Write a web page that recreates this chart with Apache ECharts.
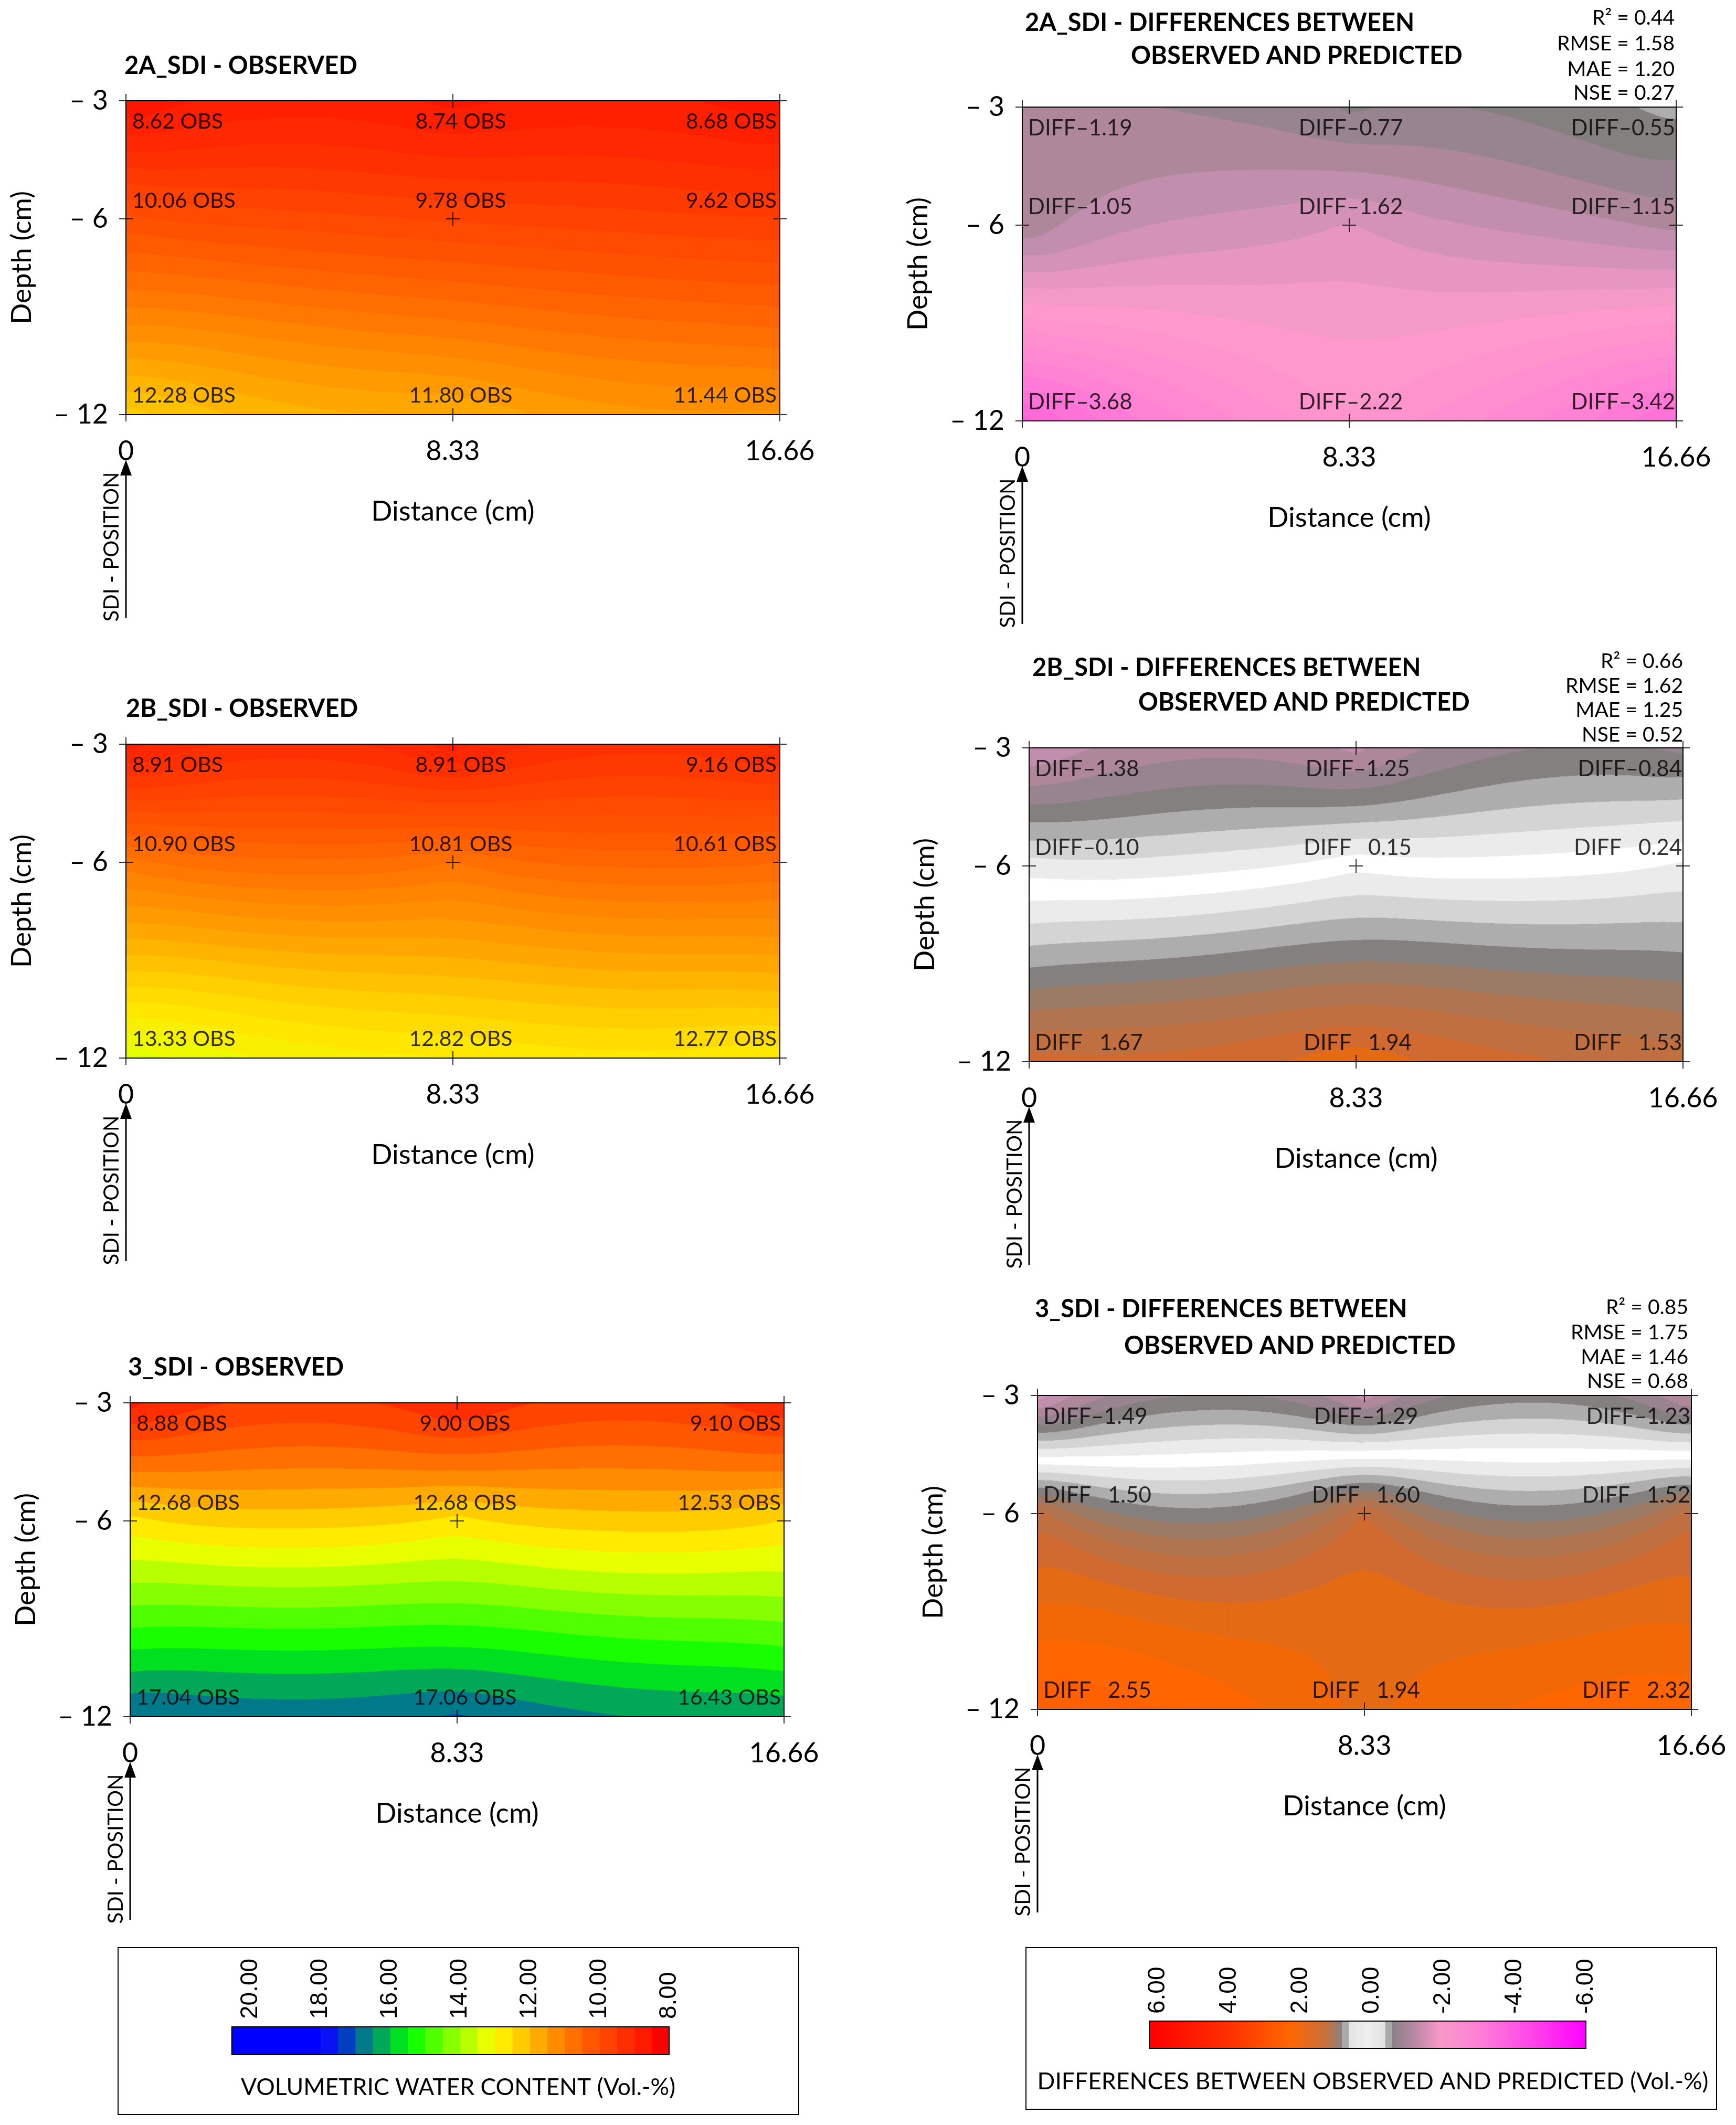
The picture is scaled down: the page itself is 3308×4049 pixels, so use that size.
<!DOCTYPE html>
<html><head><meta charset="utf-8">
<script src="https://cdn.jsdelivr.net/npm/echarts@6/dist/echarts.min.js"></script>
<style>html,body{margin:0;padding:0;background:#fff}#c{width:3308px;height:4049px}</style>
</head><body><div id="c"></div>
<script>
// ---------------- DATA ----------------
const distances = [0, 8.33, 16.66];
const depths = [-3, -6, -12];
const xTickLabels = ['0', '8.33', '16.66'];
const yTickLabels = ['\u2013 3', '\u2013 6', '\u2013 12'];
const sdiNames = ['2A_SDI', '2B_SDI', '3_SDI'];
// rows: depth -3, -6, -12 ; columns: distance 0, 8.33, 16.66
const obs2A  = [[8.62, 8.74, 8.68], [10.06, 9.78, 9.62], [12.28, 11.80, 11.44]];
const diff2A = [[-1.19, -0.77, -0.55], [-1.05, -1.62, -1.15], [-3.68, -2.22, -3.42]];
const obs2B  = [[8.91, 8.91, 9.16], [10.90, 10.81, 10.61], [13.33, 12.82, 12.77]];
const diff2B = [[-1.38, -1.25, -0.84], [-0.10, 0.15, 0.24], [1.67, 1.94, 1.53]];
const obs3   = [[8.88, 9.00, 9.10], [12.68, 12.68, 12.53], [17.04, 17.06, 16.43]];
const diff3  = [[-1.49, -1.29, -1.23], [1.50, 1.60, 1.52], [2.55, 1.94, 2.32]];
const statR2   = [0.44, 0.66, 0.85];
const statRMSE = [1.58, 1.62, 1.75];
const statMAE  = [1.20, 1.25, 1.46];
const statNSE  = [0.27, 0.52, 0.68];
const obsLegendTicks  = [20, 18, 16, 14, 12, 10, 8];
const diffLegendTicks = [6, 4, 2, 0, -2, -4, -6];
// contour interval of each panel (2A obs, 2A diff, 2B obs, 2B diff, 3 obs, 3 diff)
const contourStep = [0.2, 0.2, 0.2, 0.2, 0.5, 0.2];

// ---------------- STYLE / LAYOUT ----------------
const FONT = 'Lato';
const PW = 1246, PH = 598;
// the depth axis of the reference is stretched (the -6 row sits at 37.6 % of the height);
// reproduce it with a log axis on (DEPTH_SHIFT - depth)
const DEPTH_SHIFT = 17;
const yc = d => DEPTH_SHIFT - d;
const layout = [
  {L: 240,  T: 192,  titles: [[237, 126]]},
  {L: 1948, T: 204,  titles: [[1953, 44], [2155, 107]], statsR: 3191, statsY: [34, 83, 132, 177]},
  {L: 240,  T: 1418, titles: [[240, 1351]]},
  {L: 1961, T: 1425, titles: [[1967, 1273], [2169, 1339]], statsR: 3207, statsY: [1260, 1307, 1353, 1400]},
  {L: 248,  T: 2673, titles: [[244, 2606]]},
  {L: 1977, T: 2659, titles: [[1972, 2495], [2142, 2565]], statsR: 3217, statsY: [2491, 2539, 2586, 2632]}
];
const panelData = [obs2A, diff2A, obs2B, diff2B, obs3, diff3];

function hex2rgb(h) { return [parseInt(h.slice(1,3),16), parseInt(h.slice(3,5),16), parseInt(h.slice(5,7),16)]; }
function lerpColor(c0, c1, t) {
  const a = hex2rgb(c0), b = hex2rgb(c1);
  return 'rgb(' + a.map((x, k) => Math.round(x + (b[k] - x) * t)).join(',') + ')';
}
function tableColor(stops, v) {
  if (v <= stops[0][0]) return stops[0][1];
  for (let i = 1; i < stops.length; i++) {
    const [v1, c1] = stops[i], [v0, c0] = stops[i-1];
    if (v <= v1 + 1e-6) {
      if (Math.abs(v - v1) < 1e-6) return c1;
      return lerpColor(c0, c1, (v - v0) / (v1 - v0));
    }
  }
  return stops[stops.length-1][1];
}

// observed colour scale (legend blocks of 0.5 Vol.-%)
const obsBreaks = [8.5,9,9.5,10,10.5,11,11.5,12,12.5,13,13.5,14,14.5,15,15.5,16,16.5,17,17.5,18];
const obsColors = ['#ff0000','#ff1a00','#ff2e00','#ff4400','#ff5800','#ff7000','#ff8c00','#ffaa00','#ffcc00',
  '#ffea00','#e8ff00','#b8ff00','#86ff00','#50ff00','#18ff00','#00e020','#00a858','#007a8a','#0040c0','#0812f2','#0000ff'];
const obsStops = obsColors.map((c, i) => [8.25 + 0.5 * i, c]);
function obsColor(v) { return tableColor(obsStops, v); }

// difference colour scale
const diffStops = [
  [-6.0,'#ff00ff'],[-4.4,'#ff48e4'],[-3.8,'#ff62dc'],[-3.4,'#ff72d8'],[-3.0,'#ff82d4'],[-2.6,'#ff8ed0'],[-2.2,'#ff98cc'],
  [-2.0,'#f49ac6'],[-1.8,'#e696c0'],[-1.6,'#d492b8'],[-1.4,'#c28eae'],[-1.2,'#ae889a'],[-1.0,'#988490'],[-0.8,'#858080'],
  [-0.6,'#adadad'],[-0.4,'#d4d4d4'],[-0.2,'#ebebeb'],[0.0,'#ffffff'],[0.2,'#ebebeb'],[0.4,'#d4d4d4'],[0.6,'#adadad'],
  [0.8,'#858080'],[1.0,'#9a7a65'],[1.2,'#b07550'],[1.4,'#c07040'],[1.6,'#d06a30'],[1.8,'#e46a14'],[2.0,'#f26806'],
  [2.2,'#ff6600'],[4.0,'#ff3300'],[6.0,'#ff0000']];
function diffColor(L) { return tableColor(diffStops, L); }

// ---------------- INTERPOLATION (ordinary kriging, linear variogram) ----------------
function solve(A, b) {
  const n = b.length, M = A.map((r, i) => r.concat([b[i]]));
  for (let c = 0; c < n; c++) {
    let p = c;
    for (let r = c + 1; r < n; r++) if (Math.abs(M[r][c]) > Math.abs(M[p][c])) p = r;
    const tmp = M[c]; M[c] = M[p]; M[p] = tmp;
    for (let r = 0; r < n; r++) {
      if (r === c) continue;
      const f = M[r][c] / M[c][c];
      for (let k = c; k <= n; k++) M[r][k] -= f * M[c][k];
    }
  }
  return M.map((r, i) => r[n] / r[i]);
}
function makeField(vals) {
  const pts = [];
  depths.forEach((d, r) => distances.forEach((x, c) => pts.push([x, d, vals[r][c]])));
  const n = pts.length, A = [], b = [];
  for (let i = 0; i < n; i++) {
    const row = [];
    for (let j = 0; j < n; j++) row.push(Math.hypot(pts[i][0]-pts[j][0], pts[i][1]-pts[j][1]));
    row.push(1); A.push(row); b.push(pts[i][2]);
  }
  const last = pts.map(() => 1); last.push(0); A.push(last); b.push(0);
  const w = solve(A, b);
  return (x, y) => { let s = w[n]; for (let i = 0; i < n; i++) s += w[i] * Math.hypot(x-pts[i][0], y-pts[i][1]); return s; };
}
// vertical strips of constant contour band: [x0, x1, yLow, yHigh, bandLowerEdge]
function buildSegments(field, step) {
  const xmin = distances[0], xmax = distances[2], ymin = depths[2], ymax = depths[0];
  const NX = 340, NY = 700, segs = [];
  for (let i = 0; i < NX; i++) {
    const x0 = xmin + (xmax - xmin) * i / NX, x1 = xmin + (xmax - xmin) * (i + 1) / NX, xc = (x0 + x1) / 2;
    let start = ymin, prev = null;
    for (let j = 0; j <= NY; j++) {
      const y = ymin + (ymax - ymin) * j / NY;
      const band = Math.floor(field(xc, y) / step + 1e-9);
      if (prev === null) { prev = band; continue; }
      if (band !== prev) {
        const yb = y - (ymax - ymin) / NY / 2;
        segs.push([x0, x1, yc(start), yc(yb), Math.round(prev * step * 100) / 100]);
        start = yb; prev = band;
      }
    }
    segs.push([x0, x1, yc(start), yc(ymax), Math.round(prev * step * 100) / 100]);
  }
  return segs;
}

// ---------------- OPTION ----------------
const grids = [], xAxes = [], yAxes = [], series = [], graphics = [];
const plusPath = 'path://M0,12h26v2h-26z M12,0h2v26h-2z';

layout.forEach((lay, k) => {
  const isDiff = k % 2 === 1;
  const vals = panelData[k];
  const step = contourStep[k];
  const sdi = sdiNames[Math.floor(k / 2)];
  grids.push({left: lay.L, top: lay.T, width: PW, height: PH, containLabel: false});
  xAxes.push({
    gridIndex: k, type: 'value', min: distances[0], max: distances[2], interval: 8.33,
    axisLine: {show: false}, axisTick: {show: false}, splitLine: {show: false},
    axisLabel: {customValues: distances, margin: 44, fontSize: 52, fontFamily: FONT, color: '#000',
      formatter: v => { const i = distances.findIndex(d => Math.abs(d - v) < 1e-6); return i < 0 ? '' : xTickLabels[i]; }},
    name: 'Distance (cm)', nameLocation: 'middle', nameGap: 158,
    nameTextStyle: {fontSize: 53, fontFamily: FONT, color: '#000'}
  });
  yAxes.push({
    gridIndex: k, type: 'log', min: yc(depths[0]), max: yc(depths[2]), inverse: true,
    axisLine: {show: false}, axisTick: {show: false}, splitLine: {show: false}, minorTick: {show: false},
    axisLabel: {customValues: depths.map(yc), margin: 34, fontSize: 52, fontFamily: FONT, color: '#000',
      formatter: v => { const i = depths.findIndex(d => Math.abs(yc(d) - v) < 1e-6); return i < 0 ? '' : yTickLabels[i]; }},
    name: 'Depth (cm)', nameLocation: 'middle', nameGap: 172, nameRotate: 90,
    nameTextStyle: {fontSize: 53, fontFamily: FONT, color: '#000'}
  });

  const field = makeField(vals);
  const segs = buildSegments(field, step);
  series.push({
    type: 'custom', xAxisIndex: k, yAxisIndex: k, data: segs, silent: true, animation: false, z: 1,
    progressive: 0, progressiveThreshold: 1e9,
    encode: {x: [0, 1], y: [2, 3]},
    renderItem: (params, api) => {
      const a = api.coord([api.value(0), api.value(3)]);
      const b = api.coord([api.value(1), api.value(2)]);
      const L = api.value(4);
      const top = Math.min(a[1], b[1]), h = Math.abs(b[1] - a[1]);
      return {type: 'rect', shape: {x: a[0], y: top, width: b[0] - a[0] + 0.9, height: h + 0.9},
        style: {fill: isDiff ? diffColor(L) : obsColor(L + step / 2)}};
    }
  });

  const colAlign = ['left', 'center', 'right'];
  const colDx = isDiff ? [11, 3, -2] : [12, 15, -6];
  const rowDy = [40, -34, -36];
  const pts = [];
  depths.forEach((d, r) => distances.forEach((x, c) => {
    pts.push({value: [x, yc(d), vals[r][c]],
      label: {align: colAlign[c], verticalAlign: 'middle', position: 'inside', offset: [colDx[c], rowDy[r]]}});
  }));
  series.push({
    type: 'scatter', xAxisIndex: k, yAxisIndex: k, data: pts, symbol: plusPath, symbolSize: 26,
    itemStyle: {color: '#000'}, z: 5, silent: true, animation: false, emphasis: {disabled: true},
    label: {show: true, fontFamily: FONT, fontSize: isDiff ? 42 : 41, color: '#000',
      formatter: p => {
        const v = p.value[2];
        if (!isDiff) return v.toFixed(2) + ' OBS';
        return 'DIFF' + (v < 0 ? '\u2013' : '\u2002 ') + Math.abs(v).toFixed(2);
      }}
  });
  series.push({
    type: 'custom', xAxisIndex: k, yAxisIndex: k, data: [[distances[0], yc(depths[0])]], silent: true, animation: false, z: 4,
    renderItem: (params, api) => {
      const a = api.coord([distances[0], yc(depths[0])]), b = api.coord([distances[2], yc(depths[2])]);
      return {type: 'rect', shape: {x: a[0], y: Math.min(a[1], b[1]), width: b[0] - a[0], height: Math.abs(b[1] - a[1])},
        style: {fill: 'none', stroke: '#000', lineWidth: 2}};
    }
  });

  // titles
  const titleTexts = isDiff ? [sdi + ' - DIFFERENCES BETWEEN', 'OBSERVED AND PREDICTED'] : [sdi + ' - OBSERVED'];
  lay.titles.forEach((p, i) => graphics.push({type: 'text', x: p[0], y: p[1], silent: true,
    style: {text: titleTexts[i], fontFamily: FONT, fontWeight: 'bold', fontSize: 47, fill: '#000', align: 'left', verticalAlign: 'middle'}}));
  if (isDiff) {
    const j = Math.floor(k / 2);
    const st = ['R\u00b2 = ' + statR2[j].toFixed(2), 'RMSE = ' + statRMSE[j].toFixed(2),
                'MAE = ' + statMAE[j].toFixed(2), 'NSE = ' + statNSE[j].toFixed(2)];
    st.forEach((s, i) => graphics.push({type: 'text', x: lay.statsR, y: lay.statsY[i], silent: true,
      style: {text: s, fontFamily: FONT, fontSize: 39, fill: '#000', align: 'right', verticalAlign: 'middle'}}));
  }
  // SDI position arrow
  const B = lay.T + PH;
  graphics.push({type: 'line', silent: true, shape: {x1: lay.L, y1: B + 112, x2: lay.L, y2: B + 387}, style: {stroke: '#000', lineWidth: 3}});
  graphics.push({type: 'polygon', silent: true, shape: {points: [[lay.L, B + 86], [lay.L - 11, B + 116], [lay.L + 11, B + 116]]}, style: {fill: '#000'}});
  graphics.push({type: 'text', x: lay.L - 27, y: B + 252, rotation: Math.PI / 2, silent: true,
    style: {text: 'SDI - POSITION', fontFamily: FONT, fontSize: 40, fill: '#000', align: 'center', verticalAlign: 'middle'}});
});

// ---------------- LEGENDS ----------------
// observed legend
graphics.push({type: 'rect', silent: true, shape: {x: 225, y: 3711, width: 1297, height: 318}, style: {fill: 'none', stroke: '#000', lineWidth: 2}});
const obsX = v => 477 + (20 - v) * 66.5;
for (let i = 0; i <= obsBreaks.length; i++) {
  const lo = i === 0 ? 8 : obsBreaks[i - 1];
  const hi = i === obsBreaks.length ? 20.53 : obsBreaks[i];
  graphics.push({type: 'rect', silent: true, shape: {x: obsX(hi), y: 3862, width: obsX(lo) - obsX(hi) + 0.8, height: 53},
    style: {fill: obsColors[i]}});
}
graphics.push({type: 'rect', silent: true, shape: {x: obsX(20.53), y: 3862, width: obsX(8) - obsX(20.53), height: 53}, style: {fill: 'none', stroke: '#000', lineWidth: 2}});
obsLegendTicks.forEach(v => graphics.push({type: 'text', x: obsX(v), y: 3847, rotation: Math.PI / 2, silent: true,
  style: {text: v.toFixed(2), fontFamily: 'Liberation Sans', fontSize: 46, fill: '#000', align: 'left', verticalAlign: 'middle'}}));
graphics.push({type: 'text', x: 873, y: 3978, silent: true,
  style: {text: 'VOLUMETRIC WATER CONTENT (Vol.-%)', fontFamily: FONT, fontSize: 44.5, fill: '#000', align: 'center', verticalAlign: 'middle'}});

// difference legend
graphics.push({type: 'rect', silent: true, shape: {x: 1955, y: 3711, width: 1316, height: 308}, style: {fill: 'none', stroke: '#000', lineWidth: 2}});
const diffX = v => 2206 + (6 - v) * 68;
const dL = diffX(6.235), dR = diffX(-6);
const off = v => (diffX(v) - dL) / (dR - dL);
const gradStops = [
  [6.235,'#ff0000'],[4.0,'#ff3000'],[2.3,'#ff6600'],[1.3,'#c8703a'],[0.84,'#8a8080'],[0.83,'#aaaaaa'],[0.65,'#aaaaaa'],
  [0.64,'#e2e2e2'],[0.13,'#eeeeee'],[-0.37,'#e2e2e2'],[-0.38,'#aaaaaa'],[-0.56,'#aaaaaa'],[-0.57,'#8a8088'],
  [-1.2,'#b888a2'],[-1.9,'#f898c8'],[-3.0,'#ff80d8'],[-4.5,'#ff44e8'],[-6.0,'#ff00ff']];
graphics.push({type: 'rect', silent: true, shape: {x: dL, y: 3851, width: dR - dL, height: 52},
  style: {fill: new echarts.graphic.LinearGradient(0, 0, 1, 0, gradStops.map(s => ({offset: off(s[0]), color: s[1]}))), stroke: '#000', lineWidth: 2}});
diffLegendTicks.forEach(v => graphics.push({type: 'text', x: diffX(v), y: 3837, rotation: Math.PI / 2, silent: true,
  style: {text: v.toFixed(2), fontFamily: 'Liberation Sans', fontSize: 46, fill: '#000', align: 'left', verticalAlign: 'middle'}}));
graphics.push({type: 'text', x: 2616, y: 3967, silent: true,
  style: {text: 'DIFFERENCES BETWEEN OBSERVED AND PREDICTED (Vol.-%)', fontFamily: FONT, fontSize: 44.5, fill: '#000', align: 'center', verticalAlign: 'middle'}});

const chart = echarts.init(document.getElementById('c'), null, {renderer: 'canvas', width: 3308, height: 4049});
chart.setOption({
  backgroundColor: '#ffffff',
  animation: false,
  grid: grids, xAxis: xAxes, yAxis: yAxes, series: series,
  graphic: {elements: graphics}
});
</script></body></html>
